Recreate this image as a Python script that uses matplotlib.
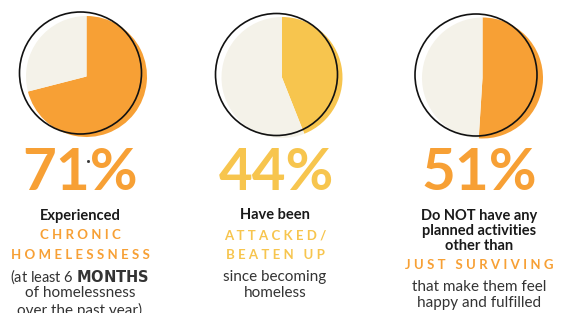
import matplotlib.pyplot as plt
from matplotlib.patches import Circle

# data
percents = [71, 44, 51]
pie_colors = ['#F7A035', '#F7C54E', '#F7A035']
rest_color = '#F4F2E9'

W, H = 563, 313
fig = plt.figure(figsize=(W / 100, H / 100), dpi=100)
ax = fig.add_axes([0, 0, 1, 1])

# pie centre (filled), outline circle centre
pie_pos = [(86.5, 76.5), (282, 77.5), (482.5, 78)]
ring_pos = [(80.5, 73), (276.5, 74.5), (476, 75)]

for p, c, (px, py), (rx, ry) in zip(percents, pie_colors, pie_pos, ring_pos):
    ax.pie([p, 100 - p], colors=[c, rest_color], startangle=90, counterclock=False,
           center=(px, H - py), radius=60.5, frame=True,
           wedgeprops=dict(linewidth=0))
    ax.add_patch(Circle((rx, H - ry), 61, fill=False, edgecolor='#111111', lw=1.2, zorder=5))

ax.set_xlim(0, W)
ax.set_ylim(0, H)
ax.set_aspect('equal')
ax.axis('off')

FONT = 'Lato'
big = dict(fontsize=42, fontweight='bold', family=FONT, ha='center', va='center')
cols_x = [80, 276, 479]
for p, c, x in zip(percents, pie_colors, cols_x):
    ax.text(x, H - 174, f'{p}%', color=c, **big)

ax.plot([88], [H - 161], marker='s', ms=1, color='#333333')

dark = '#1a1a1a'
grey = '#333333'

def line(x, y, s, color, size, weight='normal'):
    ax.text(x, H - y, s, color=color, fontsize=size, fontweight=weight, family=FONT,
            ha='center', va='center')

# column 1
line(80, 216, 'Experienced', dark, 10.5, 'bold')
line(80, 235, 'C H R O N I C', pie_colors[0], 9.5, 'bold')
line(80, 255, 'H O M E L E S S N E S S', pie_colors[0], 9.5, 'bold')
ax.text(80, H - 277, r'(at least 6 $\bf{MONTHS}$', color=grey, fontsize=10.5, family=FONT,
        ha='center', va='center')
line(80, 293, 'of homelessness', grey, 11)
line(80, 310, 'over the past year)', grey, 11)

# column 2
line(275, 215, 'Have been', dark, 10.5, 'bold')
line(275, 236, 'A T T A C K E D /', pie_colors[1], 9.5, 'bold')
line(275, 255, 'B E A T E N   U P', pie_colors[1], 9.5, 'bold')
line(275, 277, 'since becoming', grey, 11)
line(275, 293, 'homeless', grey, 11)

# column 3
line(479, 216, 'Do NOT have any', dark, 10.5, 'bold')
line(479, 231, 'planned activities', dark, 10.5, 'bold')
line(479, 246, 'other than', dark, 10.5, 'bold')
line(479, 265, 'J U S T   S U R V I V I N G', pie_colors[2], 9.5, 'bold')
line(479, 287, 'that make them feel', grey, 11)
line(479, 303, 'happy and fulfilled', grey, 11)

fig.savefig('out.png', dpi=100, facecolor='white')
